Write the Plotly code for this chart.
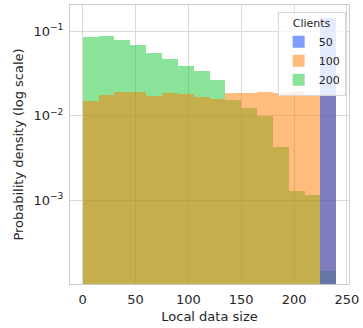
import plotly.graph_objects as go

# histogram bins (width 15, from 0 to 240)
bin_left = [0, 15, 30, 45, 60, 75, 90, 105, 120, 135, 150, 165, 180, 195, 210, 225]
bin_width = 15

density_50 = [None] * 15 + [0.143]
density_100 = [0.0150, 0.0177, 0.0191, 0.0190, 0.0173, 0.0187, 0.0182, 0.0168,
               0.0157, 0.0184, 0.0184, 0.0192, 0.0183, 0.0190, 0.0175, 0.0180]
density_200 = [0.0857, 0.0880, 0.0783, 0.0678, 0.0556, 0.0472, 0.0387, 0.0341,
               0.0263, 0.0154, 0.0123, 0.0100, 0.00423, 0.00128, 0.00115, 0.000144]

y_tick_vals = [1e-3, 1e-2, 1e-1]
y_tick_text = ["10<sup>−3</sup>", "10<sup>−2</sup>", "10<sup>−1</sup>"]
x_tick_vals = [0, 50, 100, 150, 200, 250]

series = [("200", density_200, "#1ac938", 3),
          ("100", density_100, "#ff7c00", 2),
          ("50", density_50, "#023eff", 1)]

centers = [b + bin_width / 2 for b in bin_left]

fig = go.Figure()
for name, vals, color, rank in series:
    fig.add_trace(go.Bar(
        x=centers, y=vals, width=bin_width, name=name,
        marker=dict(color=color, line=dict(width=0)),
        opacity=0.5, legendrank=rank,
    ))

axis_common = dict(
    showline=True, mirror=True, linecolor="#cccccc", linewidth=1,
    showgrid=True, gridcolor="#d9d9d9", gridwidth=1,
    zeroline=False, ticks="outside", ticklen=3, tickcolor="rgba(0,0,0,0)",
    tickfont=dict(size=13, color="#262626"),
)

fig.update_layout(
    width=363, height=328,
    margin=dict(l=70, r=12, t=4, b=44),
    paper_bgcolor="white", plot_bgcolor="white",
    barmode="overlay", bargap=0,
    font=dict(family="DejaVu Sans", color="#262626"),
    xaxis=dict(range=[-12, 252], tickvals=x_tick_vals,
               title=dict(text="Local data size", font=dict(size=13), standoff=6),
               **axis_common),
    yaxis=dict(type="log", range=[-3.99, -0.692], tickvals=y_tick_vals,
               ticktext=y_tick_text,
               title=dict(text="Probability density (log scale)", font=dict(size=13), standoff=6),
               **axis_common),
    legend=dict(
        title=dict(text="Clients", side="top center", font=dict(size=11)),
        x=0.988, y=0.975, xanchor="right", yanchor="top",
        bgcolor="rgba(255,255,255,0.8)", bordercolor="#d6d6d6", borderwidth=1,
        font=dict(size=11), itemwidth=30, traceorder="normal",
    ),
)

fig.write_html("out.html", config={"displayModeBar": False},
               post_script="document.body.style.margin='0';")
